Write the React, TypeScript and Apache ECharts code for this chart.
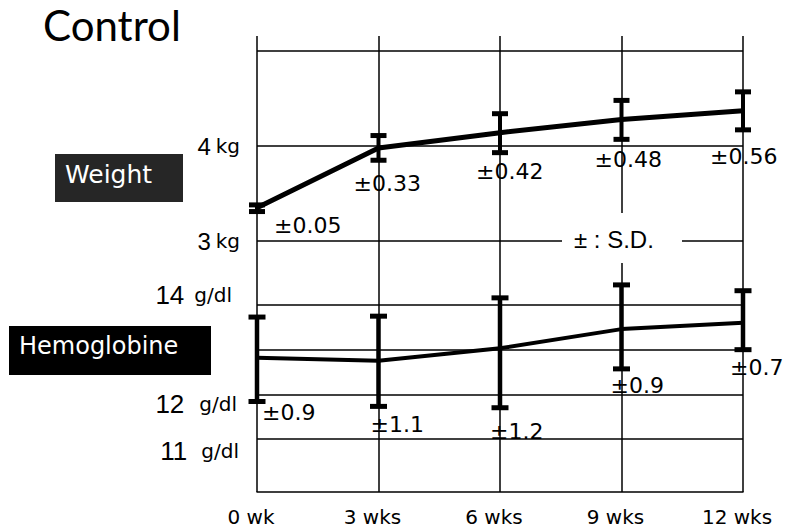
import React, { useEffect, useRef } from 'react';
import * as echarts from 'echarts';

// ---- data ----
const weeks = ['0 wk', '3 wks', '6 wks', '9 wks', '12 wks'];
const weightMean = [3.35, 3.98, 4.14, 4.28, 4.37];
const weightLow = [3.31, 3.85, 3.93, 4.07, 4.17];
const weightHigh = [3.38, 4.11, 4.34, 4.48, 4.57];
const weightSD = ['0.05', '0.33', '0.42', '0.48', '0.56'];
const hemoMean = [12.82, 12.75, 13.03, 13.46, 13.6];
const hemoLow = [11.84, 11.73, 11.7, 12.57, 13.0];
const hemoHigh = [13.73, 13.75, 14.16, 14.45, 14.32];
const hemoSD = ['0.9', '1.1', '1.2', '0.9', '0.7'];
const weightTickLabels = [3, 4];
const hemoTickLabels = [11, 12, 14];

// ---- label placement (pixels relative to lower end of each error bar) ----
const weightLabelOffset = [[17, 14], [-25, 23], [-24, 19], [-27, 20], [-33, 27]];
const hemoLabelOffset = [[5, 11], [-8, 18], [-10, 24], [-11, 17], [-13, 18]];

const BLACK = '#000';
const NUM_FONT = 'Liberation Sans';
const UNIT_FONT = 'DejaVu Sans';

function errorBars(sd: string[], offsets: number[][], barW: number, capW: number) {
  return (params: any, api: any) => {
    const i = params.dataIndex;
    const xi = api.value(0);
    const lo = api.coord([xi, api.value(1)]);
    const hi = api.coord([xi, api.value(2)]);
    const off = offsets[i];
    return {
      type: 'group',
      children: [
        { type: 'line', shape: { x1: lo[0], y1: lo[1], x2: hi[0], y2: hi[1] }, style: { stroke: BLACK, lineWidth: barW } },
        { type: 'line', shape: { x1: hi[0] - capW / 2, y1: hi[1], x2: hi[0] + capW / 2, y2: hi[1] }, style: { stroke: BLACK, lineWidth: 5 } },
        { type: 'line', shape: { x1: lo[0] - capW / 2, y1: lo[1], x2: lo[0] + capW / 2, y2: lo[1] }, style: { stroke: BLACK, lineWidth: 5 } },
        {
          type: 'text',
          x: lo[0] + off[0],
          y: lo[1] + off[1],
          style: { text: '±' + sd[i], fontFamily: 'DejaVu Sans', fontSize: 22, fill: BLACK, align: 'left', verticalAlign: 'middle' },
        },
      ],
    };
  };
}

export default function App() {
  const ref = useRef<HTMLDivElement>(null);
  useEffect(() => {
    if (!ref.current) return;
    const chart = echarts.init(ref.current, null, { renderer: 'svg' });
    const hiddenX = (gridIndex: number) => ({
      type: 'category', gridIndex, data: weeks, boundaryGap: false, show: false,
    });
    const option: any = {
      animation: false,
      backgroundColor: '#fff',
      grid: [
        { left: 257, right: 42, top: 51, height: 190 },
        { left: 257, right: 42, top: 305, height: 134 },
        { left: 257, right: 42, top: 36, bottom: 38 },
      ],
      xAxis: [
        hiddenX(0),
        hiddenX(1),
        {
          type: 'category', gridIndex: 2, data: weeks, boundaryGap: false,
          axisLine: { show: true, lineStyle: { color: BLACK, width: 1.5 } },
          axisTick: { show: false },
          splitLine: { show: true, lineStyle: { color: BLACK, width: 1.5 } },
          axisLabel: { color: BLACK, fontFamily: 'DejaVu Sans', fontSize: 20, margin: 15, padding: [0, 12, 0, 0] },
        },
      ],
      yAxis: [
        {
          type: 'value', gridIndex: 0, min: 3, max: 5, interval: 1,
          axisLine: { show: false }, axisTick: { show: false },
          splitLine: { show: true, lineStyle: { color: BLACK, width: 1.5 } },
          axisLabel: {
            margin: 17,
            formatter: (v: number) => (weightTickLabels.includes(v) ? `{n|${v}}{u|kg}` : ''),
            rich: {
              n: { fontFamily: NUM_FONT, fontSize: 24, color: BLACK },
              u: { fontFamily: UNIT_FONT, fontSize: 20, color: BLACK, padding: [0, 0, 0, 5] },
            },
          },
        },
        {
          type: 'value', gridIndex: 1, min: 11, max: 14, interval: 1,
          axisLine: { show: false }, axisTick: { show: false },
          splitLine: { show: true, lineStyle: { color: BLACK, width: 1.5 } },
          axisLabel: {
            margin: 18,
            formatter: (v: number) => {
              if (!hemoTickLabels.includes(v)) return '';
              const k = v === 14 ? 'a' : v === 12 ? 'c' : 'e';
              const u = v === 14 ? 'b' : v === 12 ? 'd' : 'f';
              return `{${k}|${v}}{${u}|g/dl}`;
            },
            rich: {
              a: { fontFamily: NUM_FONT, fontSize: 26, color: BLACK, padding: [0, 0, 20, 0] },
              b: { fontFamily: UNIT_FONT, fontSize: 20, color: BLACK, padding: [0, 7, 20, 10] },
              c: { fontFamily: NUM_FONT, fontSize: 26, color: BLACK, padding: [20, 0, 0, 0] },
              d: { fontFamily: UNIT_FONT, fontSize: 20, color: BLACK, padding: [20, 2, 0, 15] },
              e: { fontFamily: NUM_FONT, fontSize: 26, color: BLACK, padding: [24, 0, 0, 0] },
              f: { fontFamily: UNIT_FONT, fontSize: 20, color: BLACK, padding: [24, 0, 0, 14] },
            },
          },
        },
        { type: 'value', gridIndex: 2, show: false, min: 0, max: 1 },
      ],
      series: [
        {
          name: 'Weight', type: 'line', xAxisIndex: 0, yAxisIndex: 0, data: weightMean,
          symbol: 'none', lineStyle: { color: BLACK, width: 5 }, z: 5,
        },
        {
          name: 'Weight SD', type: 'custom', xAxisIndex: 0, yAxisIndex: 0,
          data: weeks.map((_, i) => [i, weightLow[i], weightHigh[i]]),
          encode: { x: 0, y: [1, 2] },
          renderItem: errorBars(weightSD, weightLabelOffset, 4, 16), z: 6,
        },
        {
          name: 'Hemoglobine', type: 'line', xAxisIndex: 1, yAxisIndex: 1, data: hemoMean,
          symbol: 'none', lineStyle: { color: BLACK, width: 4 }, z: 5,
        },
        {
          name: 'Hemoglobine SD', type: 'custom', xAxisIndex: 1, yAxisIndex: 1,
          data: weeks.map((_, i) => [i, hemoLow[i], hemoHigh[i]]),
          encode: { x: 0, y: [1, 2] },
          renderItem: errorBars(hemoSD, hemoLabelOffset, 4.5, 17), z: 6,
        },
      ],
      graphic: [
        { type: 'text', x: 43, y: 25, z: 50, style: { text: 'Control', fontFamily: 'Lato', fontSize: 42, fill: BLACK, verticalAlign: 'middle' } },
        { type: 'rect', shape: { x: 55, y: 154, width: 128, height: 48 }, z: 50, style: { fill: '#262626' } },
        { type: 'text', x: 65, y: 174, z: 51, style: { text: 'Weight', fontFamily: 'DejaVu Sans', fontSize: 25, fill: '#fff', verticalAlign: 'middle' } },
        { type: 'rect', shape: { x: 9, y: 326, width: 202, height: 49 }, z: 50, style: { fill: '#000' } },
        { type: 'text', x: 19, y: 346, z: 51, style: { text: 'Hemoglobine', fontFamily: 'DejaVu Sans', fontSize: 24, fill: '#fff', verticalAlign: 'middle' } },
        { type: 'rect', shape: { x: 562, y: 213, width: 120, height: 50 }, z: 50, style: { fill: '#fff' } },
        { type: 'text', x: 574, y: 239, z: 51, style: { text: '± : S.D.', fontFamily: 'Liberation Sans', fontSize: 24, fill: BLACK, verticalAlign: 'middle' } },
      ],
    };
    chart.setOption(option);
    return () => chart.dispose();
  }, []);
  return <div ref={ref} style={{ position: 'fixed', left: 0, top: 0, width: 785, height: 530 }} />;
}
